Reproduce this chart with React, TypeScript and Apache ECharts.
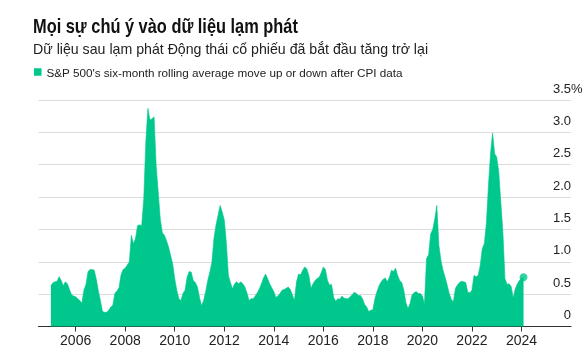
import React, { useEffect, useRef } from "react";
import * as echarts from "echarts";

const TITLE = "Mọi sự chú ý vào dữ liệu lạm phát";
const SUBTITLE = "Dữ liệu sau lạm phát Động thái cổ phiếu đã bắt đầu tăng trở lại";
const SERIES_NAME = "S&P 500's six-month rolling average move up or down after CPI data";

// Monthly observations, first one January 2005
const START_YEAR = 2005;
const values2005 = [0.63, 0.675, 0.69, 0.7, 0.77, 0.71, 0.63, 0.69, 0.66, 0.57, 0.49, 0.47];
const values2006 = [0.46, 0.43, 0.4, 0.36, 0.56, 0.65, 0.85, 0.88, 0.88, 0.87, 0.73, 0.55];
const values2007 = [0.4, 0.23, 0.22, 0.22, 0.25, 0.3, 0.33, 0.51, 0.55, 0.6, 0.8, 0.88];
const values2008 = [0.9, 0.95, 1.0, 1.41, 1.28, 1.36, 1.56, 1.57, 1.56, 1.97, 2.85, 3.37];
const values2009 = [3.19, 3.21, 3.24, 2.49, 2.08, 1.66, 1.45, 1.41, 1.33, 1.23, 1.1, 0.97];
const values2010 = [0.74, 0.56, 0.43, 0.4, 0.51, 0.56, 0.76, 0.85, 0.84, 0.71, 0.68, 0.61];
const values2011 = [0.45, 0.32, 0.4, 0.54, 0.71, 0.84, 0.99, 1.36, 1.57, 1.72, 1.87, 1.77];
const values2012 = [1.65, 1.3, 0.79, 0.68, 0.58, 0.66, 0.69, 0.66, 0.69, 0.66, 0.61, 0.52];
const values2013 = [0.4, 0.43, 0.43, 0.47, 0.52, 0.58, 0.66, 0.75, 0.81, 0.74, 0.66, 0.6];
const values2014 = [0.54, 0.45, 0.47, 0.51, 0.56, 0.57, 0.59, 0.61, 0.57, 0.49, 0.4, 0.69];
const values2015 = [0.81, 0.8, 0.87, 0.92, 0.89, 0.79, 0.59, 0.66, 0.71, 0.74, 0.76, 0.83];
const values2016 = [0.92, 0.88, 0.71, 0.64, 0.65, 0.45, 0.39, 0.43, 0.42, 0.47, 0.44, 0.43];
const values2017 = [0.43, 0.46, 0.49, 0.53, 0.51, 0.48, 0.48, 0.43, 0.34, 0.3, 0.23, 0.25];
const values2018 = [0.26, 0.43, 0.54, 0.63, 0.69, 0.73, 0.75, 0.69, 0.76, 0.87, 0.85, 0.9];
const values2019 = [0.79, 0.71, 0.68, 0.56, 0.37, 0.28, 0.35, 0.49, 0.52, 0.54, 0.51, 0.51];
const values2020 = [0.47, 0.35, 1.05, 1.11, 1.43, 1.5, 1.66, 1.87, 1.25, 1.02, 0.87, 0.76];
const values2021 = [0.64, 0.51, 0.42, 0.38, 0.59, 0.64, 0.68, 0.7, 0.69, 0.68, 0.53, 0.52];
const values2022 = [0.56, 0.79, 0.77, 0.79, 0.94, 1.2, 1.28, 1.59, 2.18, 2.67, 2.99, 2.67];
const values2023 = [2.62, 2.39, 1.92, 1.46, 0.74, 0.65, 0.66, 0.62, 0.44, 0.58, 0.66, 0.71];
const values2024 = [0.75, 0.76];

const xTickYears = [2006, 2008, 2010, 2012, 2014, 2016, 2018, 2020, 2022, 2024];
const yTickValues = [0, 0.5, 1, 1.5, 2, 2.5, 3, 3.5];

const GREEN = "#00c78c";
const FONT = "'Liberation Sans', Arial, Helvetica, sans-serif";

const monthly = [
  ...values2005, ...values2006, ...values2007, ...values2008, ...values2009,
  ...values2010, ...values2011, ...values2012, ...values2013, ...values2014,
  ...values2015, ...values2016, ...values2017, ...values2018, ...values2019,
  ...values2020, ...values2021, ...values2022, ...values2023, ...values2024,
];
const seriesData = monthly.map((v, i) => [START_YEAR + i / 12, v]);
const lastPoint = seriesData[seriesData.length - 1];

export default function App() {
  const ref = useRef<HTMLDivElement>(null);

  useEffect(() => {
    if (!ref.current) return;
    const chart = echarts.init(ref.current, undefined, { renderer: "svg" });
    const yMax = yTickValues[yTickValues.length - 1];
    chart.setOption({
      animation: false,
      textStyle: { fontFamily: FONT },
      grid: { left: 38.5, right: 15, top: 100, bottom: 37.5 },
      legend: {
        data: [SERIES_NAME],
        left: 34,
        top: 66,
        padding: 0,
        icon: "rect",
        itemWidth: 7.5,
        itemHeight: 7.5,
        selectedMode: false,
        textStyle: { fontSize: 11.7, color: "#222", fontFamily: FONT },
      },
      xAxis: {
        type: "value",
        min: 2004.5,
        max: 2026,
        axisLine: { show: true, lineStyle: { color: "#333", width: 1 } },
        axisTick: {
          show: true,
          customValues: xTickYears,
          length: 5,
          lineStyle: { color: "#333" },
        },
        axisLabel: {
          customValues: xTickYears,
          formatter: (v: number) => String(Math.round(v)),
          fontSize: 14,
          color: "#222",
          margin: 6,
          fontFamily: FONT,
        },
        splitLine: { show: false },
      },
      yAxis: {
        type: "value",
        position: "right",
        min: 0,
        max: yMax,
        interval: 0.5,
        axisLine: { show: false },
        axisTick: { show: false },
        splitLine: { show: true, lineStyle: { color: "#dcdcdc", width: 1 } },
        axisLabel: {
          inside: true,
          margin: 0,
          align: "right",
          verticalAlign: "bottom",
          lineHeight: 24,
          fontSize: 13,
          color: "#222",
          fontFamily: FONT,
          formatter: (v: number) => (v === 0 ? "0" : v.toFixed(1)),
        },
      },
      series: [
        {
          type: "line",
          name: SERIES_NAME,
          data: seriesData,
          showSymbol: false,
          symbol: "none",
          lineStyle: { width: 0.6, color: GREEN },
          itemStyle: { color: GREEN },
          areaStyle: { color: GREEN, opacity: 1 },
          z: 2,
        },
        {
          type: "scatter",
          name: "latest",
          data: [lastPoint],
          symbolSize: 8,
          itemStyle: { color: GREEN },
          z: 3,
        },
      ],
      graphic: [
        {
          type: "text",
          x: 33,
          y: 26.3,
          scaleX: 0.82,
          style: {
            text: TITLE,
            fontSize: 20,
            fontWeight: "bold",
            fontFamily: FONT,
            fill: "#111",
            verticalAlign: "middle",
          },
        },
        {
          type: "text",
          x: 33,
          y: 48.8,
          scaleX: 0.945,
          style: {
            text: SUBTITLE,
            fontSize: 15,
            fontFamily: FONT,
            fill: "#222",
            verticalAlign: "middle",
          },
        },
        {
          type: "text",
          x: 571,
          y: 88.4,
          style: {
            text: "%",
            fontSize: 13,
            fontFamily: FONT,
            fill: "#222",
            verticalAlign: "middle",
          },
        },
      ],
    });
    return () => chart.dispose();
  }, []);

  return (
    <div
      ref={ref}
      style={{ position: "fixed", left: 0, top: 0, width: 586, height: 364 }}
    />
  );
}
